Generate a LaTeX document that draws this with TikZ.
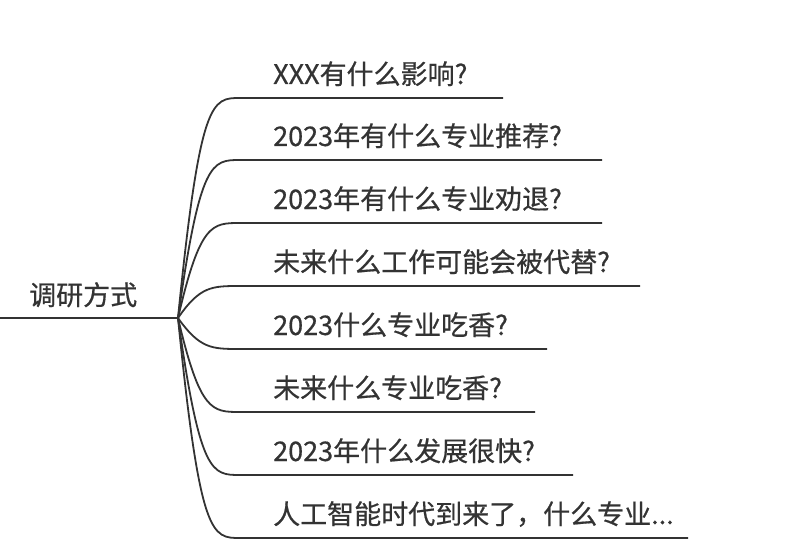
\documentclass[tikz,border=0pt]{standalone}
\usepackage{fontspec}
\newfontfamily\cjk[FakeBold=0.6]{Noto Sans CJK SC}
\definecolor{ink}{HTML}{333333}
\begin{document}
\begin{tikzpicture}[x=1pt,y=-1pt,
  conn/.style={draw=ink,line width=1.8pt},
  lbl/.style={anchor=base west,inner sep=0pt,text=ink,font=\cjk\fontsize{27}{32}\selectfont}]
\useasboundingbox (0,0) rectangle (789,556);
\coordinate (rootstart) at (0,318);
\coordinate (hub) at (178,318);
\node[lbl] (root) at (29,305) {调研方式};
\draw[conn] (rootstart) -- (hub);
\foreach \i/\y/\xe/\t in {
  1/98/503/{XXX有什么影响?},
  2/160/602/{2023年有什么专业推荐?},
  3/223/602/{2023年有什么专业劝退?},
  4/286/640/{未来什么工作可能会被代替?},
  5/349/547/{2023什么专业吃香?},
  6/412/535/{未来什么专业吃香?},
  7/475/573/{2023年什么发展很快?},
  8/538/688/{人工智能时代到来了，什么专业...}}{
  \coordinate (s\i) at (240,\y);
  \coordinate (e\i) at (\xe,\y);
  \coordinate (ca\i) at (200,\y);
  \coordinate (cb\i) at (212,\y);
  \node[lbl] (t\i) at (273,\y-14) {\t};
  \draw[conn] (hub) .. controls (ca\i) and (cb\i) .. (s\i) -- (e\i);
}
\end{tikzpicture}
\end{document}
